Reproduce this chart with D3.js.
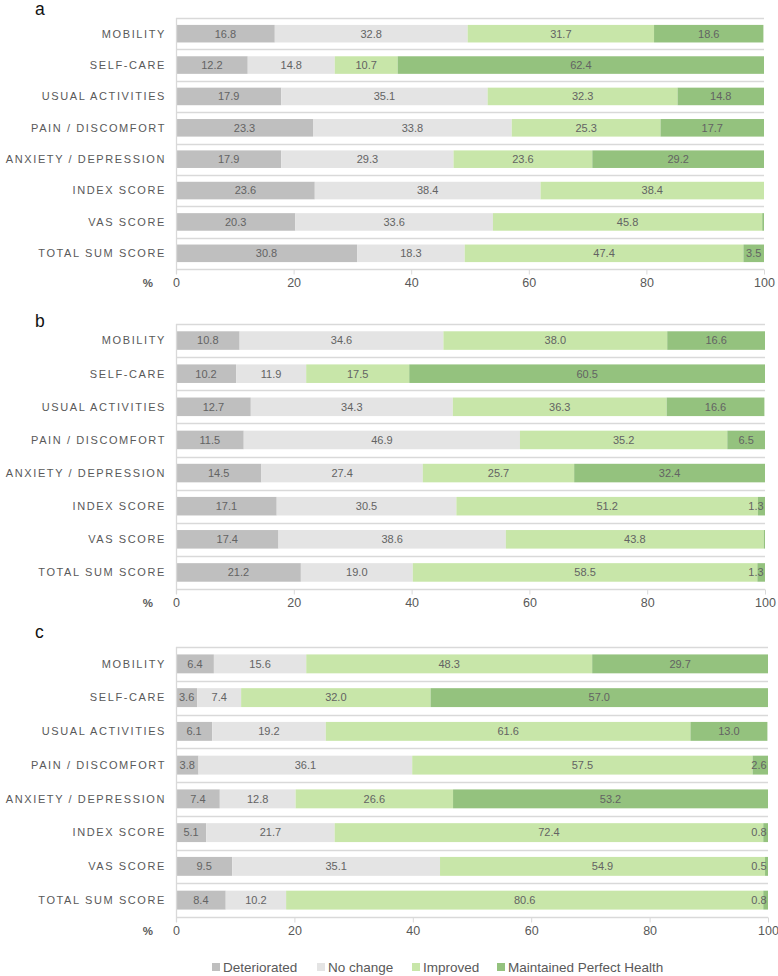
<!DOCTYPE html>
<html>
<head>
<meta charset="utf-8">
<script src="https://cdn.jsdelivr.net/npm/d3@7"></script>
<style>
  html, body { margin: 0; padding: 0; background: #ffffff; }
  svg { display: block; font-family: "Liberation Sans", Arial, Helvetica, sans-serif; }
</style>
</head>
<body>
<svg id="chart" width="778" height="976"></svg>
<script>
// ---------- data ----------
const categories = ["MOBILITY", "SELF-CARE", "USUAL ACTIVITIES", "PAIN / DISCOMFORT",
  "ANXIETY / DEPRESSION", "INDEX SCORE", "VAS SCORE", "TOTAL SUM SCORE"];
const seriesNames = ["Deteriorated", "No change", "Improved", "Maintained Perfect Health"];
const panelLabels = ["a", "b", "c"];
const xTicks = [0, 20, 40, 60, 80, 100];

// panel a (rows follow categories; columns follow seriesNames)
const deterioratedA = [16.8, 12.2, 17.9, 23.3, 17.9, 23.6, 20.3, 30.8];
const noChangeA     = [32.8, 14.8, 35.1, 33.8, 29.3, 38.4, 33.6, 18.3];
const improvedA     = [31.7, 10.7, 32.3, 25.3, 23.6, 38.4, 45.8, 47.4];
const maintainedA   = [18.6, 62.4, 14.8, 17.7, 29.2, 0.0, 0.3, 3.5];

// panel b
const deterioratedB = [10.8, 10.2, 12.7, 11.5, 14.5, 17.1, 17.4, 21.2];
const noChangeB     = [34.6, 11.9, 34.3, 46.9, 27.4, 30.5, 38.6, 19.0];
const improvedB     = [38.0, 17.5, 36.3, 35.2, 25.7, 51.2, 43.8, 58.5];
const maintainedB   = [16.6, 60.5, 16.6, 6.5, 32.4, 1.3, 0.2, 1.3];

// panel c
const deterioratedC = [6.4, 3.6, 6.1, 3.8, 7.4, 5.1, 9.5, 8.4];
const noChangeC     = [15.6, 7.4, 19.2, 36.1, 12.8, 21.7, 35.1, 10.2];
const improvedC     = [48.3, 32.0, 61.6, 57.5, 26.6, 72.4, 54.9, 80.6];
const maintainedC   = [29.7, 57.0, 13.0, 2.6, 53.2, 0.8, 0.5, 0.8];

const panelValues = [
  [deterioratedA, noChangeA, improvedA, maintainedA],
  [deterioratedB, noChangeB, improvedB, maintainedB],
  [deterioratedC, noChangeC, improvedC, maintainedC]
];

// ---------- styles / layout ----------
const colors = ["#bfbfbf", "#e4e4e4", "#c8e6a9", "#94c27e"];
const textColor = "#595959";
const valueColor = "#636363";
const gridColor = "#d9d9d9";
const plotLeft = 176;
const panelLayout = [
  { top: 18,  bottom: 269, right: 764, letterY: 15 },
  { top: 324, bottom: 589, right: 765, letterY: 327 },
  { top: 647, bottom: 917, right: 768, letterY: 638 }
];

const svg = d3.select("#chart");

panelLayout.forEach((lay, pi) => {
  const values = panelValues[pi];
  const g = svg.append("g");

  const x = d3.scaleLinear().domain([0, 100]).range([plotLeft, lay.right]);
  const y = d3.scaleBand().domain(categories).range([lay.top, lay.bottom])
    .paddingInner(0.44).paddingOuter(0.22);
  const step = y.step();

  // panel letter
  g.append("text").attr("x", 35).attr("y", lay.letterY)
    .attr("font-size", 17.5).attr("fill", "#111").text(panelLabels[pi]);

  // horizontal grid lines between categories
  const gridYs = d3.range(categories.length + 1).map(i => lay.top + i * step);
  g.selectAll("line.grid").data(gridYs).join("line")
    .attr("class", "grid")
    .attr("x1", plotLeft).attr("x2", lay.right)
    .attr("y1", d => Math.round(d) + 0.5).attr("y2", d => Math.round(d) + 0.5)
    .attr("stroke", gridColor).attr("stroke-width", 1.3);

  // clip
  const clipId = "clip" + pi;
  svg.append("clipPath").attr("id", clipId).append("rect")
    .attr("x", plotLeft).attr("y", lay.top).attr("width", lay.right - plotLeft)
    .attr("height", lay.bottom - lay.top);

  // stacked data
  const rows = categories.map((c, ci) => {
    const r = { cat: c };
    seriesNames.forEach((s, si) => { r[s] = values[si][ci]; });
    return r;
  });
  const stack = d3.stack().keys(seriesNames)(rows);

  const barsG = g.append("g").attr("clip-path", `url(#${clipId})`);
  stack.forEach((layer, si) => {
    barsG.selectAll(null).data(layer).join("rect")
      .attr("x", d => x(d[0]))
      .attr("y", d => y(d.data.cat))
      .attr("width", d => Math.max(0, Math.min(x(d[1]), lay.right) - x(d[0])))
      .attr("height", y.bandwidth())
      .attr("fill", colors[si]);
  });

  // value labels
  stack.forEach((layer, si) => {
    g.selectAll(null).data(layer.filter(d => d.data[seriesNames[si]] >= 0.5)).join("text")
      .attr("x", d => {
        const cx = (x(d[0]) + Math.min(x(d[1]), lay.right)) / 2;
        return Math.min(cx, lay.right - 9);
      })
      .attr("y", d => y(d.data.cat) + y.bandwidth() / 2)
      .attr("dy", "0.35em")
      .attr("text-anchor", "middle")
      .attr("font-size", 11)
      .attr("fill", valueColor)
      .text(d => d.data[seriesNames[si]].toFixed(1));
  });

  // category labels
  g.selectAll(null).data(categories).join("text")
    .attr("x", plotLeft - 10)
    .attr("y", d => y(d) + y.bandwidth() / 2)
    .attr("dy", "0.35em")
    .attr("text-anchor", "end")
    .attr("font-size", 11)
    .attr("letter-spacing", "1.6px")
    .attr("fill", textColor)
    .text(d => d);

  // vertical axis line at 0
  g.append("line")
    .attr("x1", plotLeft + 0.5).attr("x2", plotLeft + 0.5)
    .attr("y1", lay.top).attr("y2", lay.bottom + 5)
    .attr("stroke", gridColor).attr("stroke-width", 1.3);

  // x axis
  const xAxis = d3.axisBottom(x).tickValues(xTicks).tickSize(5).tickPadding(4)
    .tickFormat(d3.format("d"));
  const ax = g.append("g").attr("transform", `translate(0,${Math.round(lay.bottom) + 0.5})`).call(xAxis);
  ax.select(".domain").remove();
  ax.selectAll(".tick line").attr("stroke", gridColor);
  ax.selectAll(".tick text").attr("fill", textColor).attr("font-size", 12.5)
    .attr("font-family", "Liberation Sans, Arial, sans-serif");

  // % label
  g.append("text").attr("x", 153).attr("y", lay.bottom + 18)
    .attr("text-anchor", "end").attr("font-size", 11.5).attr("font-weight", "bold")
    .attr("fill", textColor).text("%");
});

// legend
const legendX = [212, 317, 412, 497];
const legend = svg.append("g");
seriesNames.forEach((s, i) => {
  legend.append("rect").attr("x", legendX[i]).attr("y", 963).attr("width", 8).attr("height", 8)
    .attr("fill", colors[i]);
  legend.append("text").attr("x", legendX[i] + 11).attr("y", 967).attr("dy", "0.35em")
    .attr("font-size", 13.5).attr("fill", textColor).text(s);
});
</script>
</body>
</html>
